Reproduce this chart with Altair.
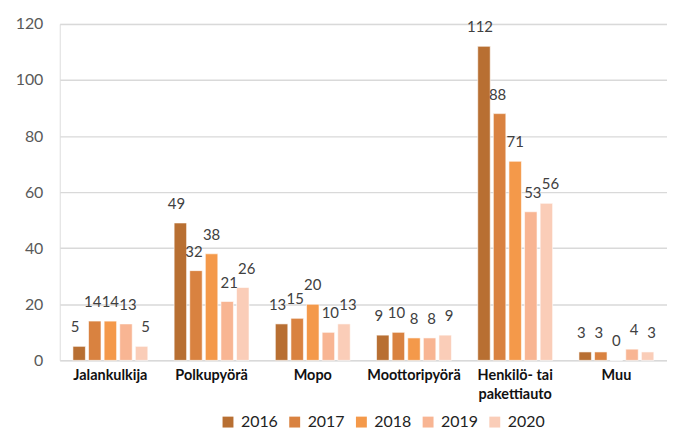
import altair as alt
import pandas as pd

categories = ["Jalankulkija", "Polkupyörä", "Mopo", "Moottoripyörä", "Henkilö- tai pakettiauto", "Muu"]
years = ["2016", "2017", "2018", "2019", "2020"]
values = {
    "2016": [5, 49, 13, 9, 112, 3],
    "2017": [14, 32, 15, 10, 88, 3],
    "2018": [14, 38, 20, 8, 71, 0],
    "2019": [13, 21, 10, 8, 53, 4],
    "2020": [5, 26, 13, 9, 56, 3],
}
colors = ["#B86F32", "#D98240", "#F4994A", "#F8B593", "#FACDB8"]

rows = []
for y in years:
    for c, v in zip(categories, values[y]):
        rows.append({"Kategoria": c, "Vuosi": y, "Arvo": v})
df = pd.DataFrame(rows)

FONT = "Lato"

x_enc = alt.X("Kategoria:N", sort=categories, title=None,
              scale=alt.Scale(paddingInner=0.26, paddingOuter=0.13),
              axis=alt.Axis(labelAngle=0, labelFontWeight="bold", labelFontSize=14.5,
                            labelColor="#111111", labelFont=FONT, domain=False, ticks=False,
                            labelPadding=8, labelLineHeight=19,
                            labelExpr="datum.label == 'Henkilö- tai pakettiauto' ? ['Henkilö- tai', 'pakettiauto'] : datum.label"))
xo_enc = alt.XOffset("Vuosi:N", sort=years, scale=alt.Scale(paddingInner=0.2))
y_enc = alt.Y("Arvo:Q", title=None,
              scale=alt.Scale(domain=[0, 120], nice=False),
              axis=alt.Axis(values=[0, 20, 40, 60, 80, 100, 120], grid=True, gridColor="#D9D9D9",
                            gridWidth=1.5, domain=False, ticks=False, labelFontSize=16,
                            labelColor="#595959", labelFont=FONT, labelPadding=17))

bars = alt.Chart(df).mark_bar(stroke="white", strokeWidth=0.6).encode(
    x=x_enc, xOffset=xo_enc, y=y_enc,
    color=alt.Color("Vuosi:N", sort=years, title=None,
                    scale=alt.Scale(domain=years, range=colors),
                    legend=alt.Legend(orient="none", direction="horizontal", legendX=161, legendY=392,
                                      symbolType="square", symbolSize=120, symbolStrokeWidth=0,
                                      labelFontSize=16, labelFont=FONT, labelColor="#222222",
                                      columnPadding=8, labelOffset=5))
)

# value labels, spread slightly apart within each group so neighbours do not collide
label_layers = []
for i, yr in enumerate(years):
    label_layers.append(
        alt.Chart(df).transform_filter(alt.datum.Vuosi == yr)
        .mark_text(baseline="bottom", dy=-11, dx=(i - 2) * 2, fontSize=15, font=FONT, color="#404040")
        .encode(x=x_enc, xOffset=xo_enc, y=y_enc, text=alt.Text("Arvo:Q"))
    )

chart = alt.layer(bars, *label_layers).properties(
    width=610, height=338, padding={"top": 7, "left": 7, "right": 0, "bottom": 0}
).configure_view(stroke=None).configure(background="white")

chart.save("out.html", embed_options={"renderer": "svg", "actions": False})
